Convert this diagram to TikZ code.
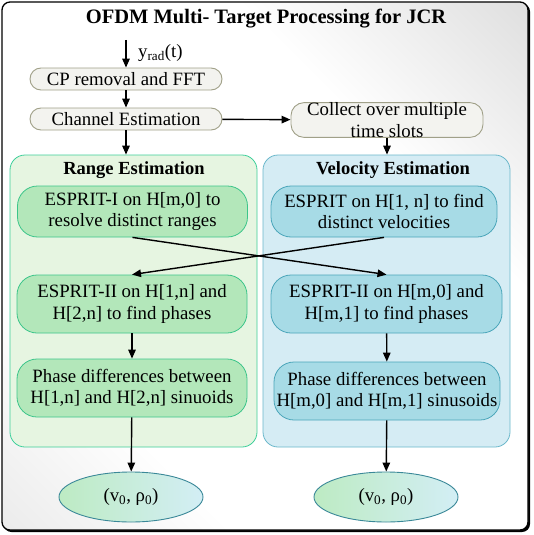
\documentclass[tikz,border=0pt]{standalone}
\usepackage{fontspec}
\setmainfont{Liberation Serif}
\usetikzlibrary{arrows.meta,shapes.geometric}
\definecolor{gpanel}{HTML}{E6F5E1}
\definecolor{gpanelb}{HTML}{3DCF9A}
\definecolor{gbox}{HTML}{B3E7BA}
\definecolor{gboxb}{HTML}{3CC58A}
\definecolor{bpanel}{HTML}{D5ECF4}
\definecolor{bpanelb}{HTML}{6BB8CB}
\definecolor{bbox}{HTML}{A7DBE6}
\definecolor{bboxb}{HTML}{4BA6BA}
\definecolor{graybox}{HTML}{F3F3EF}
\definecolor{graybord}{HTML}{A0A088}
\definecolor{ellb}{HTML}{3A8898}
\definecolor{ellg}{HTML}{BDEBC3}
\definecolor{ellbl}{HTML}{D3EEF5}
\pgfdeclarehorizontalshading{diagbg}{100bp}{color(0bp)=(black!15); color(30bp)=(white); color(66bp)=(white); color(100bp)=(black!22)}
\tikzset{
  body/.style={font=\fontsize{18.8}{21.5}\selectfont, align=center, inner sep=0pt},
  graystep/.style={body, draw=graybord, fill=graybox, line width=0.9pt, rounded corners=11pt},
  panelg/.style={draw=gpanelb, fill=gpanel, line width=0.8pt, rounded corners=15pt, inner sep=0pt},
  panelb/.style={draw=bpanelb, fill=bpanel, line width=0.8pt, rounded corners=15pt, inner sep=0pt},
  gstep/.style={body, draw=gboxb, fill=gbox, line width=0.8pt, rounded corners=20pt, minimum width=230pt, minimum height=55pt},
  bstep/.style={body, draw=bboxb, fill=bbox, line width=0.8pt, rounded corners=20pt, minimum width=228pt, minimum height=55pt},
  outcome/.style={body, ellipse, draw=ellb, line width=0.9pt, left color=ellg, right color=ellbl, minimum width=144pt, minimum height=50pt},
  ptitle/.style={font=\fontsize{18.5}{21}\selectfont\bfseries, inner sep=0pt},
  arr/.style={line width=1.4pt, -{Triangle[length=9pt,width=7.5pt]}}
}
\begin{document}
\begin{tikzpicture}[x=1pt,y=-1pt]
\useasboundingbox (0,0) rectangle (533,535);
% outer frame with shadow
\fill[black, rounded corners=8pt] (3.5,3.5) rectangle (530,532);
\path[rounded corners=8pt, shading=diagbg, shading angle=45, draw=black, line width=1.3pt] (2,2) rectangle (528,530);
\node[font=\fontsize{20.5}{24}\selectfont\bfseries, inner sep=0pt] (title) at (266,19) {OFDM Multi- Target Processing for JCR};
% panels
\node[panelg, minimum width=247pt, minimum height=292pt] (R) at (133.5,301) {};
\node[panelb, minimum width=247pt, minimum height=292pt] (V) at (386.5,301) {};
\node[ptitle] (Rt) at (134,170) {Range Estimation};
\node[ptitle] (Vt) at (393,170) {Velocity Estimation};
% top chain
\coordinate (in) at (126,40);
\node[graystep, minimum width=192pt, minimum height=22pt] (cp) at (126,79) {CP removal and FFT};
\node[graystep, minimum width=192pt, minimum height=22pt] (ch) at (126,119) {Channel Estimation};
\node[graystep, minimum width=192pt, minimum height=34pt, rounded corners=13pt] (col) at (387,120) {Collect over multiple\\time slots};
\node[body, anchor=west] (yl) at (138,53) {y\textsubscript{rad}(t)};
% boxes
\node[gstep, minimum height=51pt] (g1) at (132.5,211.5) {ESPRIT-I on H[m,0] to\\resolve distinct ranges};
\node[bstep, minimum width=226pt, minimum height=51pt] (b1) at (384,211.5) {ESPRIT on H[1, n] to find\\distinct velocities};
\node[gstep, minimum height=58pt] (g2) at (132,304) {ESPRIT-II on H[1,n] and\\H[2,n] to find phases};
\node[bstep, minimum width=231pt, minimum height=58pt] (b2) at (386.5,304) {ESPRIT-II on H[m,0] and\\H[m,1] to find phases};
\node[gstep, minimum height=58pt] (g3) at (132,388) {Phase differences between\\H[1,n] and H[2,n] sinuoids};
\node[bstep, minimum width=226pt, minimum height=58pt] (b3) at (387,391) {Phase differences between\\H[m,0] and H[m,1] sinusoids};
\node[outcome] (e1) at (131,497) {(v\textsubscript{0}, ρ\textsubscript{0})};
\node[outcome] (e2) at (386,497) {(v\textsubscript{0}, ρ\textsubscript{0})};
% connectors
\draw[arr] (in) -- (cp.north);
\draw[arr] (cp) -- (ch);
\draw[arr] (ch) -- (col);
\draw[arr] (ch.south) -- (ch.south |- R.north);
\draw[arr] (col.south) -- (col.south |- V.north);
\draw[arr] (g1.south) -- (b2.north);
\draw[arr] (b1.south) -- (g2.north);
\draw[arr] (g2) -- (g3);
\draw[arr] (b2) -- (b3);
\draw[arr] (g3) -- (e1);
\draw[arr] (b3) -- (e2);
\end{tikzpicture}
\end{document}
